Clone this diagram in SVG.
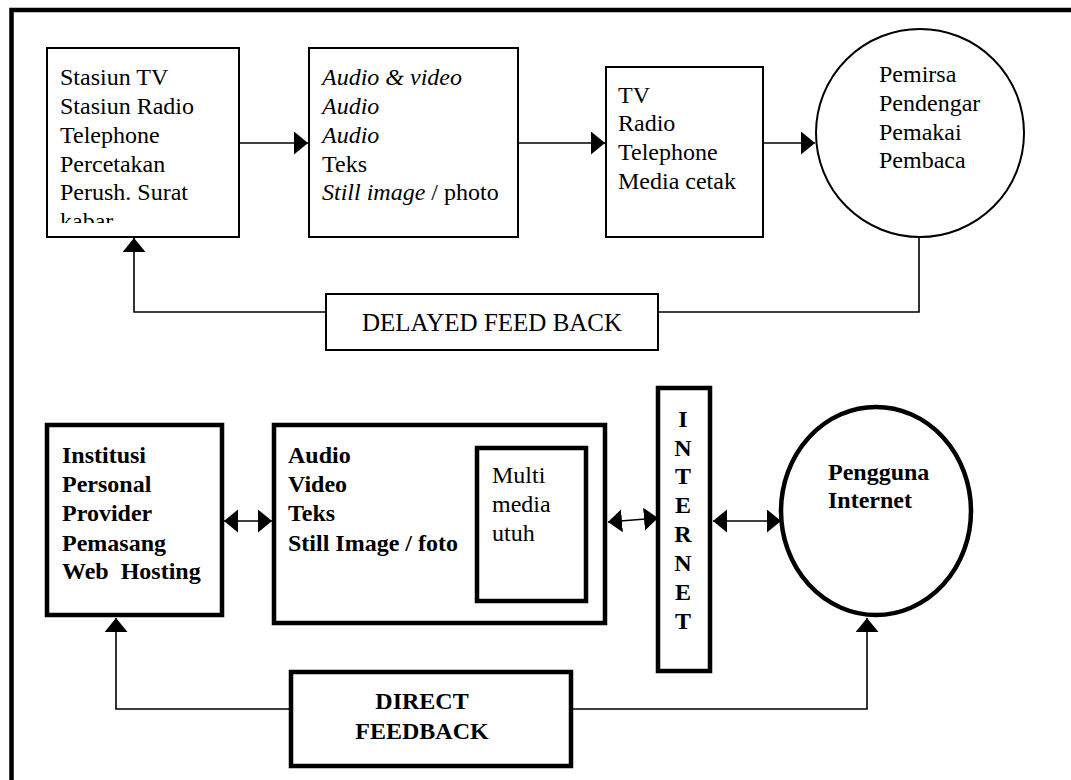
<svg xmlns="http://www.w3.org/2000/svg" width="1071" height="780" viewBox="0 0 1071 780">
<style>
.t{font-family:"Liberation Serif","Times New Roman",serif;font-size:24px;fill:#000}
.b{font-weight:bold}
.i{font-style:italic}
.thin{fill:#fff;stroke:#000;stroke-width:2}
.thick{fill:#fff;stroke:#000;stroke-width:4.5}
.c{fill:none;stroke:#000;stroke-width:1.6}
</style>
<defs>
<marker id="ah" markerUnits="userSpaceOnUse" markerWidth="16" markerHeight="24" refX="14" refY="11.5" orient="auto-start-reverse">
<path d="M0,0 L14,11.5 L0,23 z" fill="#000"/>
</marker>
<clipPath id="clip1"><rect x="46" y="47" width="193" height="176"/></clipPath>
</defs>
<rect width="1071" height="780" fill="#fff"/>
<path d="M11.5,790 V10 H1080" fill="none" stroke="#000" stroke-width="4.5"/>

<g id="connectors">
<line class="c" x1="239" y1="143" x2="308" y2="143" marker-end="url(#ah)"/>
<line class="c" x1="518" y1="143" x2="605" y2="143" marker-end="url(#ah)"/>
<line class="c" x1="763" y1="143" x2="815" y2="143" marker-end="url(#ah)"/>
<path class="c" d="M919,238 V312 H658"/>
<path class="c" d="M326,312 H134 V238" marker-end="url(#ah)"/>
<line class="c" x1="224" y1="521" x2="272" y2="521" marker-start="url(#ah)" marker-end="url(#ah)"/>
<line class="c" x1="608" y1="522" x2="658" y2="518" marker-start="url(#ah)" marker-end="url(#ah)"/>
<line class="c" x1="713" y1="521" x2="781" y2="521" marker-start="url(#ah)" marker-end="url(#ah)"/>
<path class="c" d="M289,709 H116 V618" marker-end="url(#ah)"/>
<path class="c" d="M573,709 H867 V618" marker-end="url(#ah)"/>
</g>

<g id="node-sources">
<rect class="thin" x="47" y="48" width="192" height="189"/>
<g clip-path="url(#clip1)">
<text class="t" x="60" y="85">Stasiun TV</text>
<text class="t" x="60" y="114">Stasiun Radio</text>
<text class="t" x="60" y="143">Telephone</text>
<text class="t" x="60" y="172">Percetakan</text>
<text class="t" x="60" y="200">Perush. Surat</text>
<text class="t" x="60" y="229">kabar</text>
</g>
</g>

<g id="node-content">
<rect class="thin" x="309" y="48" width="209" height="189"/>
<text class="t i" x="322" y="85">Audio &amp; video</text>
<text class="t i" x="322" y="114">Audio</text>
<text class="t i" x="322" y="143">Audio</text>
<text class="t" x="322" y="172">Teks</text>
<text class="t" x="322" y="200"><tspan class="i">Still image</tspan> / photo</text>
</g>

<g id="node-media">
<rect class="thin" x="606" y="67" width="157" height="170"/>
<text class="t" x="618" y="103">TV</text>
<text class="t" x="618" y="131">Radio</text>
<text class="t" x="618" y="160">Telephone</text>
<text class="t" x="618" y="189">Media cetak</text>
</g>

<g id="node-audience">
<circle class="thin" cx="920" cy="133" r="104"/>
<text class="t" x="879" y="82">Pemirsa</text>
<text class="t" x="879" y="111">Pendengar</text>
<text class="t" x="879" y="140">Pemakai</text>
<text class="t" x="879" y="168">Pembaca</text>
</g>

<g id="node-delayed">
<rect class="thin" x="326" y="294" width="332" height="56"/>
<text class="t" x="492" y="331" text-anchor="middle" style="font-size:25px">DELAYED FEED BACK</text>
</g>

<g id="node-providers">
<rect class="thick" x="47" y="425" width="175" height="190"/>
<text class="t b" x="62" y="463">Institusi</text>
<text class="t b" x="62" y="492">Personal</text>
<text class="t b" x="62" y="521">Provider</text>
<text class="t b" x="62" y="551">Pemasang</text>
<text class="t b" x="62" y="579" xml:space="preserve">Web  Hosting</text>
</g>

<g id="node-multimedia">
<rect class="thick" x="274" y="425" width="331" height="198"/>
<text class="t b" x="288" y="463">Audio</text>
<text class="t b" x="288" y="492">Video</text>
<text class="t b" x="288" y="521">Teks</text>
<text class="t b" x="288" y="551">Still Image / foto</text>
<rect class="thick" x="477" y="448" width="109" height="153"/>
<text class="t" x="492" y="483">Multi</text>
<text class="t" x="492" y="512">media</text>
<text class="t" x="492" y="541">utuh</text>
</g>

<g id="node-internet">
<rect class="thick" x="658" y="388" width="52" height="283"/>
<g class="t b" text-anchor="middle">
<text x="683" y="427">I</text>
<text x="683" y="456">N</text>
<text x="683" y="484">T</text>
<text x="683" y="513">E</text>
<text x="683" y="542">R</text>
<text x="683" y="571">N</text>
<text x="683" y="600">E</text>
<text x="683" y="629">T</text>
</g>
</g>

<g id="node-users">
<ellipse class="thick" cx="876" cy="511" rx="95" ry="104"/>
<text class="t b" x="828" y="480">Pengguna</text>
<text class="t b" x="828" y="508">Internet</text>
</g>

<g id="node-direct">
<rect class="thick" x="291" y="672" width="280" height="94"/>
<text class="t b" x="422" y="709" text-anchor="middle">DIRECT</text>
<text class="t b" x="422" y="739" text-anchor="middle">FEEDBACK</text>
</g>
</svg>
